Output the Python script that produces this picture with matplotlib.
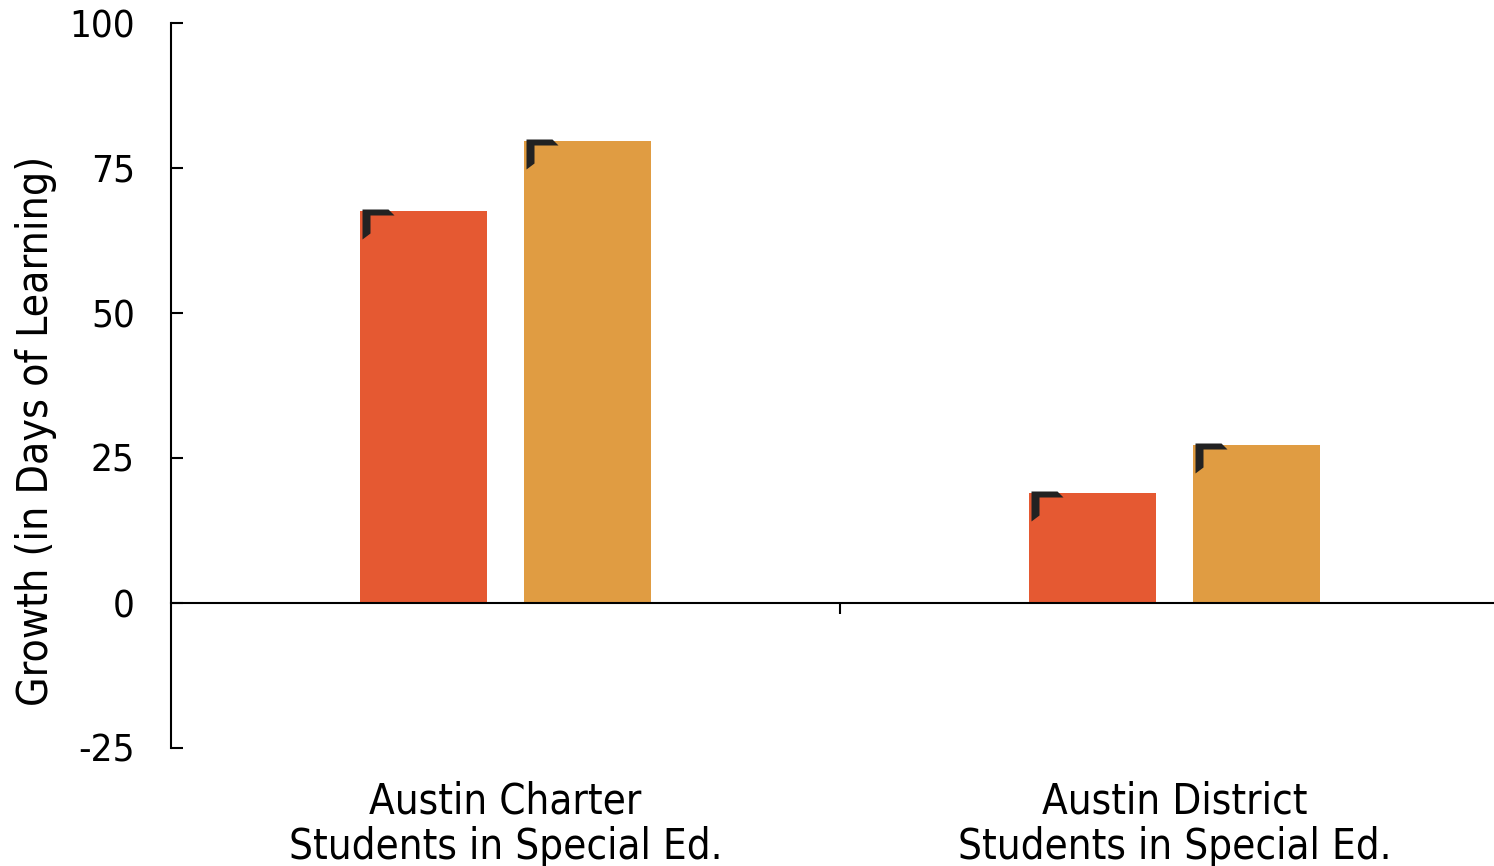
import numpy as np
import matplotlib.pyplot as plt
from matplotlib.path import Path

# Data
categories = ['Austin Charter\nStudents in Special Ed.', 'Austin District\nStudents in Special Ed.']
series_a = [67.6, 19.0]   # red bars
series_b = [79.7, 27.2]   # orange bars
yticks = [-25, 0, 25, 50, 75, 100]

red = '#E55932'
orange = '#E09C42'

plt.rcParams['font.family'] = 'DejaVu Sans'
plt.rcParams['font.stretch'] = 'condensed'

fig = plt.figure(figsize=(14.94, 8.66), dpi=100)
ax = fig.add_axes([171 / 1494, 118 / 866, (1509 - 171) / 1494, 725 / 866])

x = np.arange(len(categories))
w = 0.19
off = 0.123
bars_a = ax.bar(x - off, series_a, w, color=red)
bars_b = ax.bar(x + off, series_b, w, color=orange)

# little dark corner flags on each bar (pixel offsets from the top-left corner)
verts = [(2, 2), (28, 2), (34, -4), (10, -4), (10, -22), (2, -28), (2, 2)]
codes = [Path.MOVETO] + [Path.LINETO] * 5 + [Path.CLOSEPOLY]
flag = Path(verts, codes)
msize = 2 * 34 * 0.72
for b in list(bars_a) + list(bars_b):
    ax.plot(b.get_x(), b.get_height(), marker=flag, markersize=msize,
            color='#222222', markeredgewidth=0, clip_on=False)

ax.set_xlim(-0.5, 1.5)
ax.set_ylim(-25, 100)
ax.set_yticks(yticks)
ax.set_yticklabels([str(t) for t in yticks], fontsize=27.7)
ax.tick_params(axis='y', direction='in', length=12 * 0.72, width=1.5, pad=26)

ax.set_xticks([0.5])
ax.set_xticklabels([''])
ax.tick_params(axis='x', direction='out', length=11 * 0.72, width=1.5)

for s in ['top', 'right']:
    ax.spines[s].set_visible(False)
ax.spines['bottom'].set_position(('data', 0))
ax.spines['bottom'].set_linewidth(1.5)
ax.spines['left'].set_linewidth(1.5)

ax.text(-0.101, 0.437, 'Growth (in Days of Learning)', transform=ax.transAxes,
        rotation=90, ha='center', va='center', fontsize=30.6)

for i, c in enumerate(categories):
    ax.text(i, -0.045, c, transform=ax.get_xaxis_transform(), ha='center', va='top',
            fontsize=30.2, linespacing=1.1)

fig.savefig('out.png', dpi=100)
